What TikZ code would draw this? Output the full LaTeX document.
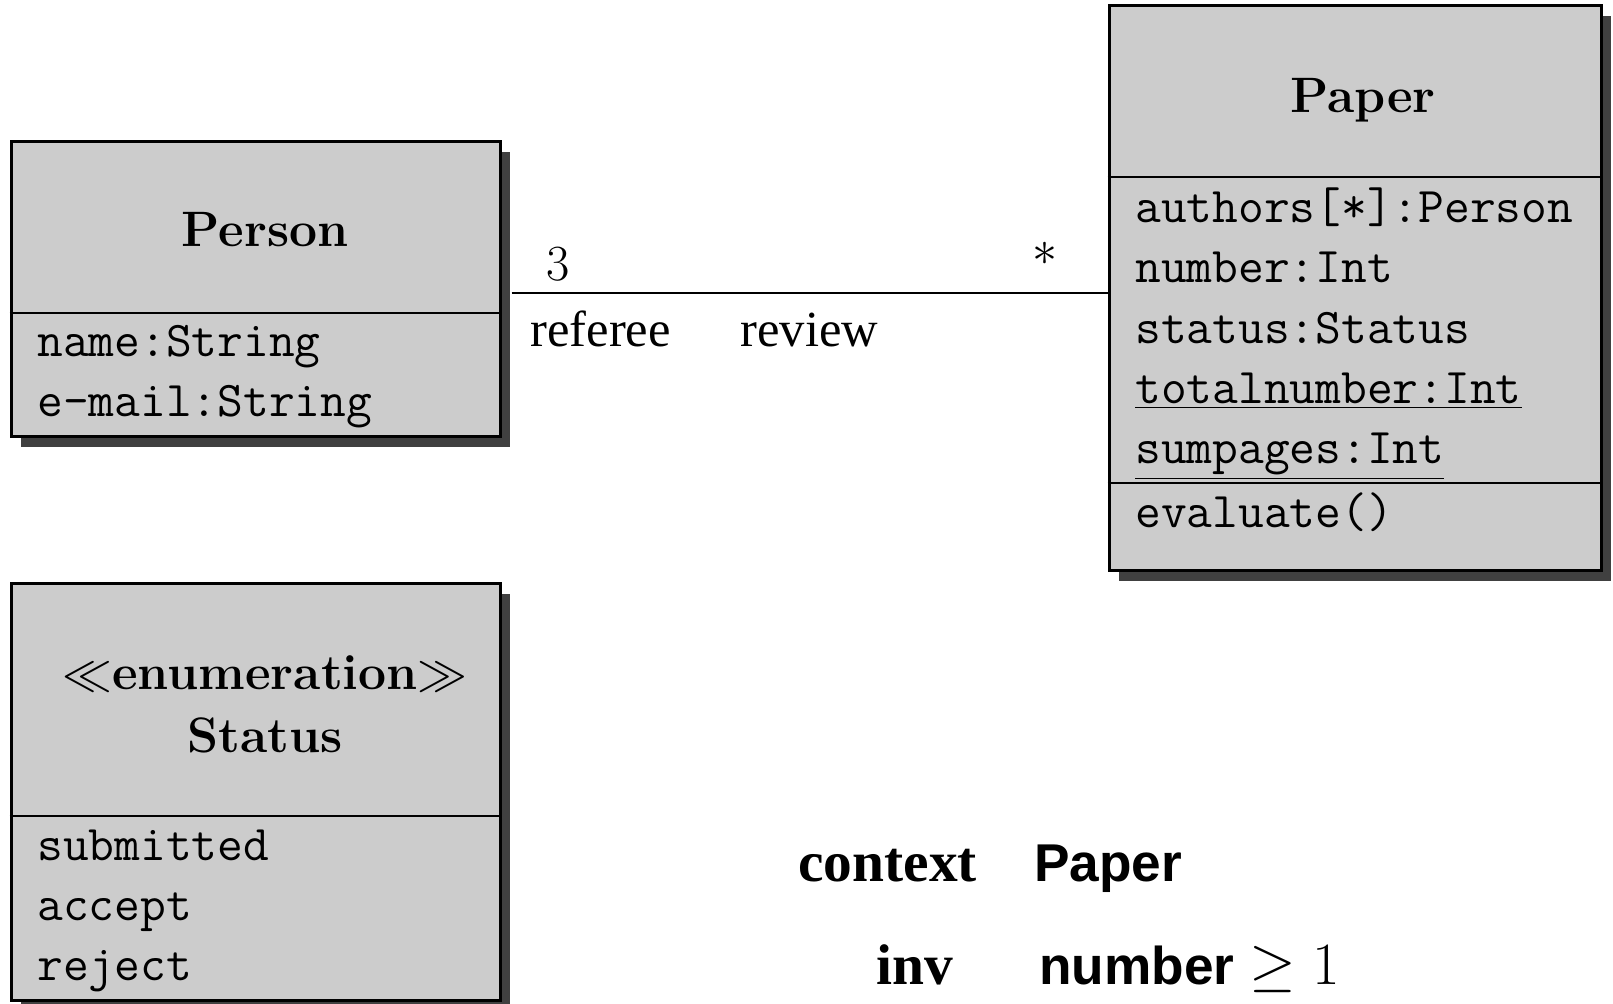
\RequirePackage{fix-cm}
\documentclass[tikz,border=0pt]{standalone}
\usepackage{fontspec}
\newfontfamily\timesf{Liberation Serif}
\newfontfamily\helvf{Liberation Sans}
\usetikzlibrary{shadows}
\definecolor{boxgray}{HTML}{CCCCCC}
\definecolor{shadowgray}{HTML}{404040}
\begin{document}
\begin{tikzpicture}[x=0.5pt,y=-0.5pt,
  umlbox/.style={draw, line width=1.5pt, fill=boxgray, rectangle, inner sep=0pt,
    drop shadow={shadow xshift=5pt, shadow yshift=-5pt, fill=shadowgray, opacity=1}},
  divider/.style={line width=1.3pt},
  assoc/.style={line width=1.3pt},
  ttline/.style={anchor=base west, inner sep=0pt, font=\fontsize{25}{30}\ttfamily},
  titletext/.style={anchor=base, inner sep=0pt, font=\fontsize{24.9}{30}\selectfont\bfseries},
  roletext/.style={anchor=base west, inner sep=0pt, font=\fontsize{25.3}{30}\selectfont\timesf},
  kwtext/.style={anchor=base west, inner sep=0pt, font=\fontsize{28.7}{34}\selectfont\timesf\bfseries},
  exprtext/.style={anchor=base west, inner sep=0pt, font=\fontsize{26.6}{34}\selectfont\helvf\bfseries}]
\useasboundingbox (0,0) rectangle (1613,1004);

% boxes
\node[umlbox, minimum width=244.5pt, minimum height=147.5pt] (person) at (255.5,289.5) {};
\node[umlbox, minimum width=246pt, minimum height=282.5pt] (paper) at (1355,288.5) {};
\node[umlbox, minimum width=244.5pt, minimum height=208.5pt] (status) at (255.5,792.5) {};

% dividers
\draw[divider] (person.west |- 0,313) -- (person.east |- 0,313);
\draw[divider] (paper.west |- 0,177) -- (paper.east |- 0,177);
\draw[divider] (paper.west |- 0,483) -- (paper.east |- 0,483);
\draw[divider] (status.west |- 0,816) -- (status.east |- 0,816);

% Person
\node[titletext] (persontitle) at (265,247) {Person};
\node[ttline] (pname) at (37,357) {name:String};
\node[ttline] (pmail) at (37,417) {e-mail:String};

% Paper
\node[titletext] (papertitle) at (1363,113) {Paper};
\node[ttline] (pa1) at (1135,223) {authors[*]:Person};
\node[ttline] (pa2) at (1135,283) {number:Int};
\node[ttline] (pa3) at (1135,344) {status:Status};
\node[ttline] (pa4) at (1135,404) {\underline{totalnumber:Int}};
\node[ttline] (pa5) at (1135,464) {\underline{sumpages:Int}};
\node[ttline] (pm1) at (1135,528) {evaluate()};

% Status
\node[titletext] (enumst) at (265,690) {$\ll$enumeration$\gg$};
\node[titletext] (statustitle) at (265,753) {Status};
\node[ttline] (s1) at (37,861) {submitted};
\node[ttline] (s2) at (37,921) {accept};
\node[ttline] (s3) at (37,981) {reject};

% association
\draw[assoc] ([xshift=5pt]person.east |- 0,293) -- (paper.west |- 0,293);
\node[roletext] (mult3) at (546,281) {$3$};
\node[inner sep=0pt, font=\fontsize{25}{30}\selectfont] (multstar) at (1045,254) {$*$};
\node[roletext] (referee) at (530,347) {referee};
\node[roletext] (review) at (740,347) {review};

% OCL constraint
\node[kwtext] (ctx) at (798,882) {context};
\node[exprtext] (ctxpaper) at (1034,882) {Paper};
\node[kwtext] (inv) at (876,985) {inv};
\node[exprtext] (invexpr) at (1039,985) {number {\normalfont\fontsize{30}{34}\selectfont$\geq 1$}};
\end{tikzpicture}
\end{document}
